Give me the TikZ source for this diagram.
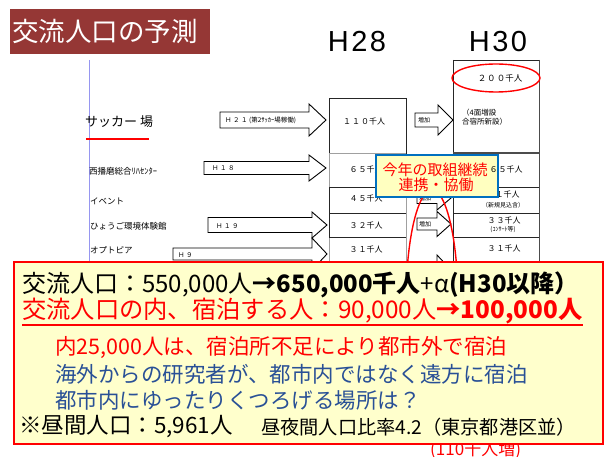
\documentclass[tikz,border=0pt]{standalone}
\usepackage{fontspec}
\setmainfont{Noto Sans CJK JP}
\newfontfamily\arialf{Liberation Sans}
\definecolor{titlered}{RGB}{149,55,53}
\definecolor{boxyellow}{RGB}{255,255,204}
\definecolor{calloutyellow}{RGB}{255,255,192}
\definecolor{calloutblue}{RGB}{0,112,192}
\definecolor{textblue}{RGB}{41,80,150}
\definecolor{lavender}{RGB}{150,150,240}
\definecolor{gridgray}{RGB}{160,160,160}
\definecolor{brightred}{RGB}{255,0,0}
\newcommand{\blkarrow}[6]{%
  \draw[arrowbox] (#1,#4-#5) -- (#2,#4-#5) -- (#2,#4-#6) -- (#3,#4) -- (#2,#4+#6) -- (#2,#4+#5) -- (#1,#4+#5) -- cycle;}
\begin{document}
\begin{tikzpicture}[x=1pt,y=-1pt,
  arrowbox/.style={draw=black, fill=white, line width=0.9pt, line join=miter},
  gline/.style={draw=gridgray, line width=0.7pt},
  bline/.style={draw=black!85, line width=0.8pt},
  tbl/.style={font=\fontsize{8}{9}\selectfont, inner sep=0},
  small/.style={font=\fontsize{6.5}{7.5}\selectfont, inner sep=0, anchor=west},
  lbl/.style={font=\fontsize{8.5}{9}\selectfont, inner sep=0, anchor=west},
  bigline/.style={inner sep=0, anchor=west}]
\useasboundingbox (0,0) rectangle (611,457);
\fill[white] (0,0) rectangle (611,457);

% title
\fill[titlered] (10,9) rectangle (210,54);
\node[inner sep=0, anchor=west, text=white, font=\fontsize{26.5}{27}\selectfont] (title) at (12,31.5) {交流人口の予測};

% year headings
\node[inner sep=0, font=\arialf\fontsize{29}{30}\selectfont] (h28) at (357,42) {H\kern2.5pt 2\kern2.5pt 8};
\node[inner sep=0, font=\arialf\fontsize{29}{30}\selectfont] (h30) at (498,42) {H\kern2.5pt 3\kern2.5pt 0};

% left blue line
\draw[lavender, line width=1pt] (89,60) -- (89,262);

% labels
\node[inner sep=0, anchor=west, font=\fontsize{13}{14}\selectfont] (soccer) at (85,122) {サッカー\kern3pt 場};
\draw[brightred, line width=1.5pt] (86,139) -- (149,139);
\node[lbl] (reha) at (89,171) {西播磨総合ﾘﾊｾﾝﾀｰ};
\node[lbl] (event) at (90,201) {イベント};
\node[lbl] (hyogo) at (90,226) {ひょうご環境体験館};
\node[lbl] (opto) at (90,250) {オプトピア};

% H28 column grid
\draw[gline] (406,98) -- (406,262);
\draw[gline] (329,153) -- (329,262);
\draw[bline] (329,98) rectangle (406,153);
\draw[gline] (329,153) -- (406,153);
\draw[bline] (329,187) -- (406,187) (329,213) -- (406,213) (329,237) -- (406,237);
\draw[bline] (329,187) -- (329,237);
% H30 column grid
\draw[bline] (453,60) -- (539,60);
\draw[bline] (453,60) -- (453,262);
\draw[draw=black!70, line width=0.8pt] (539,60) -- (539,262);
\draw[draw=black!70, line width=1.8pt] (453,153) -- (539,153);
\draw[bline] (453,187) -- (539,187) (453,213) -- (539,213) (453,237) -- (539,237);

% arrows left
\blkarrow{220}{309}{326}{120}{8}{16}
\blkarrow{204}{309}{326}{168}{6.5}{13}
\blkarrow{208}{312}{327}{225}{7.5}{13}
\blkarrow{173}{312}{327}{254}{6}{16}
\node[small] (a21) at (225,120) {Ｈ\kern1.5pt ２\kern1.5pt １ (第2ｻｯｶｰ場稼働)};
\node[small] (a18) at (212,168) {Ｈ\kern1.5pt １\kern1.5pt ８};
\node[small] (a19) at (216,226) {Ｈ\kern1.5pt １\kern1.5pt ９};
\node[small] (a9) at (178,255) {Ｈ\kern1.5pt ９};

% middle arrows
\blkarrow{415}{438}{453}{120}{7}{15}
\blkarrow{417}{437}{451}{198}{5.5}{12}
\blkarrow{417}{437}{451}{224}{6}{12.5}
\blkarrow{417}{437}{451}{270}{6}{15}
\node[small, font=\fontsize{6}{7}\selectfont] (z1) at (418,120) {増加};
\node[small, font=\fontsize{6}{7}\selectfont] (z2) at (419,198) {増加};
\node[small, font=\fontsize{6}{7}\selectfont] (z3) at (419,224) {増加};

% H28 values
\node[tbl] (v110) at (364,122) {１\kern1pt １\kern1pt ０千人};
\node[tbl] (v65a) at (366,170) {６\kern1pt ５千人};
\node[tbl] (v45) at (366,199) {４\kern1pt ５千人};
\node[tbl] (v32) at (366,226) {３\kern1pt ２千人};
\node[tbl] (v31a) at (366,250) {３\kern1pt １千人};

% H30 values
\node[tbl, font=\fontsize{8.5}{9}\selectfont] (v200) at (500,78) {２\kern1pt ０\kern1pt ０千人};
\draw[brightred, line width=1.4pt] (496,78) ellipse [x radius=44, y radius=14];
\node[tbl, font=\fontsize{7.5}{8.5}\selectfont, anchor=north west, align=left] (v4men) at (462,109) {（4面増設\\合宿所新設）};
\node[tbl] (v61) at (503,195) {６\kern1pt １千人};
\node[tbl, font=\fontsize{6}{7}\selectfont] (v61n) at (503,205) {（新規見込含）};
\node[tbl] (v33) at (504,221) {３\kern1pt ３千人};
\node[tbl, font=\fontsize{6}{7}\selectfont] (v33n) at (503,230) {(ｺﾝｻｰﾄ等)};
\node[tbl] (v31b) at (504,249) {３\kern1pt １千人};

% tall red ellipse
\draw[brightred, line width=1.4pt] (432,302) ellipse [x radius=26, y radius=112];

% callout
\draw[fill=calloutyellow, draw=calloutblue, line width=2pt] (376,155) rectangle (498,197);
\node[inner sep=0, text=brightred, font=\fontsize{15}{16}\selectfont] (c1) at (435,170) {今年の取組継続};
\node[inner sep=0, text=brightred, font=\fontsize{15}{16}\selectfont] (c2) at (436,185) {連携・協働};
\node[tbl] (v65b) at (506,170) {６\kern1pt ５千人};

% (110千人増) peeking below
\node[inner sep=0, anchor=west, text=brightred, font=\fontsize{17}{18}\selectfont] (inc) at (430,450) {(110千人増)};

% big box
\draw[fill=boxyellow, draw=brightred, line width=2.5pt] (14,262) rectangle (603,444);
\node[bigline, font=\fontsize{24}{25}\selectfont] (l1) at (22,285) {交流人口：550,000人\textbf{→650,000千人}+α\textbf{(H30以降）}};
\node[bigline, text=brightred, font=\fontsize{24.3}{25}\selectfont] (l2) at (22,311) {交流人口の内、宿泊する人：90,000人\textbf{→100,000人}};
\draw[brightred, line width=1.2pt] (l2.west |- 0,325) -- (l2.east |- 0,325);
\node[bigline, text=brightred, font=\fontsize{21.5}{22}\selectfont] (l3) at (55,347) {内25,000人は、宿泊所不足により都市外で宿泊};
\node[bigline, text=textblue, font=\fontsize{21.5}{22}\selectfont] (l4) at (55,374) {海外からの研究者が、都市内ではなく遠方に宿泊};
\node[bigline, text=textblue, font=\fontsize{21.5}{22}\selectfont] (l5) at (55,400) {都市内にゆったりくつろげる場所は？};
\node[bigline, font=\fontsize{22.5}{23}\selectfont] (l6a) at (19,427) {※昼間人口：5,961人};
\node[bigline, font=\fontsize{19.2}{20}\selectfont] (l6b) at (261,427) {昼夜間人口比率4.2（東京都港区並）};
\end{tikzpicture}
\end{document}
